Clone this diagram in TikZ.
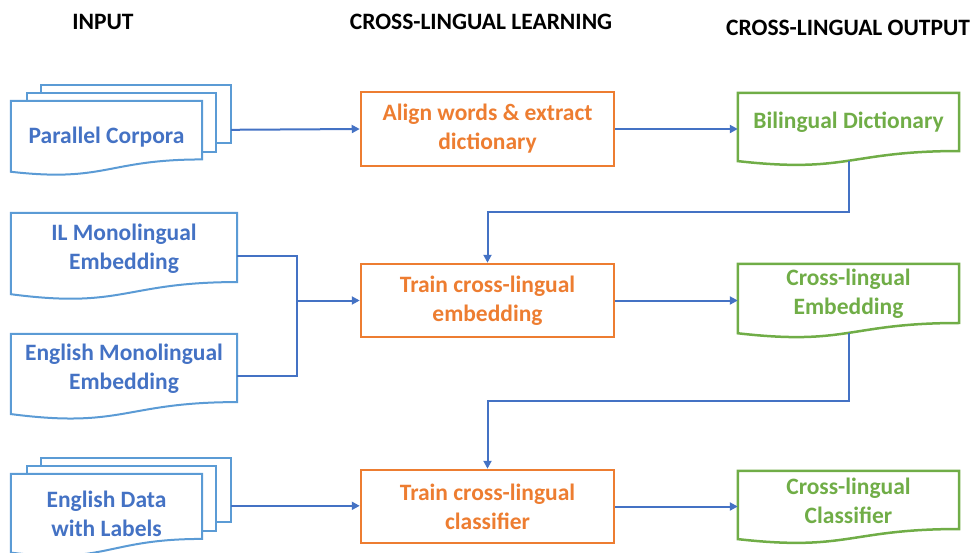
\documentclass[tikz,border=0pt]{standalone}
\usepackage{fontspec}
\setmainfont{Carlito}
\usetikzlibrary{calc}
\usetikzlibrary{arrows.meta}
\definecolor{inblue}{HTML}{4472C4}
\definecolor{docblue}{HTML}{5B9BD5}
\definecolor{outorange}{HTML}{ED7D31}
\definecolor{outgreen}{HTML}{70AD47}
\tikzset{heading/.style={font=\bfseries\fontsize{23.5}{29}\selectfont, inner sep=0pt}}
\tikzset{txt/.style={font=\bfseries\fontsize{23.5}{29}\selectfont, align=center, inner sep=0pt}}
\tikzset{learn/.style={txt, rectangle, draw=outorange, line width=2.5pt, text=outorange,
   minimum width=253pt, minimum height=73pt}}
\tikzset{indoc/.style={txt, text=inblue, minimum width=226pt}}
\tikzset{outdoc/.style={txt, text=outgreen, minimum width=221pt}}
\tikzset{inline/.style={draw=docblue, line width=2pt}}
\tikzset{outline/.style={draw=outgreen, line width=2.5pt}}
\tikzset{conn/.style={draw=inblue, line width=2pt}}
\tikzset{arr/.style={conn, -{Triangle[length=8pt,width=8pt]}}}
% document outline: node, right end, control, left end
\newcommand\wavedoc[5]{%
  \draw[#1] (#2.north west) -- (#2.north east) -- ($(#2.north east)!#3!(#2.south east)$)
    .. controls ($(#2.north)!#3!(#2.south)$) and ($(#2.north)!#4!(#2.south)$)
    .. ($(#2.north west)!#5!(#2.south west)$) -- cycle;}
% the two sheets behind a multi-document
\newcommand\multiback[2]{%
  \draw[inline] ($(#1.north west)+(16,0)$) -- ++(0,-8) -| ($(#1.north east)+(14,#2+9)$) -- ++(-14,0);
  \draw[inline] ($(#1.north west)+(30,-8)$) -- ++(0,-8) -| ($(#1.north east)+(29,#2)$) -- ++(-15,0);}

\begin{document}
\begin{tikzpicture}[x=1pt, y=-1pt]
  \useasboundingbox (0,0) rectangle (974,552);

  \node[heading] (hin)  at (103,22) {INPUT};
  \node[heading] (hlrn) at (481,22) {CROSS-LINGUAL LEARNING};
  \node[heading, anchor=west] (hout) at (726,28) {CROSS-LINGUAL OUTPUT};

  % input
  \node[indoc, minimum width=191pt, minimum height=72pt] (pc) at (106.5,137) {Parallel Corpora};
  \node[indoc, minimum height=71pt] (ilm) at (124,248.5) {IL Monolingual\\Embedding};
  \node[indoc, minimum height=70pt] (emb) at (124,369) {English Monolingual\\Embedding};
  \node[indoc, minimum width=191pt, minimum height=80pt] (ed) at (106.5,514) {English Data\\with Labels};

  \wavedoc{inline}{pc}{0.81}{1.13}{0.98}
  \multiback{pc}{42}
  \wavedoc{inline}{ilm}{0.97}{1.35}{1.14}
  \wavedoc{inline}{emb}{0.97}{1.35}{1.14}
  \wavedoc{inline}{ed}{0.81}{1.13}{0.98}
  \multiback{ed}{48}

  % learning
  \node[learn, minimum height=74pt] (align) at (487.5,129) {Align words \& extract\\dictionary};
  \node[learn] (tremb) at (487.5,300.5) {Train cross-lingual\\embedding};
  \node[learn] (trcls) at (487.5,506.5) {Train cross-lingual\\classifier};

  % output
  \node[outdoc, minimum height=59pt] (bd) at (848.5,122.5) {Bilingual Dictionary};
  \node[outdoc, minimum height=60pt] (ce) at (848.5,294) {Cross-lingual\\Embedding};
  \node[outdoc, minimum height=59pt] (cc) at (848.5,500.5) {Cross-lingual\\Classifier};

  \wavedoc{outline}{bd}{0.98}{1.36}{1.15}
  \wavedoc{outline}{ce}{0.98}{1.36}{1.15}
  \wavedoc{outline}{cc}{0.98}{1.36}{1.15}

  % connectors
  \coordinate (pcb) at ($(pc.north east)+(29,29)$);
  \coordinate (edb) at ($(ed.north east)+(29,32)$);
  \coordinate (jn) at ($(tremb.west)+(-63,0)$);
  \coordinate (bdw) at ($(bd.north)!1.14!(bd.south)$);
  \coordinate (cew) at ($(ce.north)!1.14!(ce.south)$);

  \draw[arr] (pcb) -- (align.west);
  \draw[arr] (align.east) -- (align.east -| bd.west);
  \draw[arr] (bdw) |- ($(bdw)!0.5!(tremb.north)$) -| (tremb.north);

  \draw[conn] ([yshift=-7pt]ilm.east) -| (jn) |- ([yshift=-7pt]emb.east);
  \draw[arr] (jn) -- (tremb.west);
  \draw[arr] (tremb.east) -- (tremb.east -| ce.west);
  \draw[arr] (cew) |- ($(cew)!0.5!(trcls.north)$) -| (trcls.north);

  \draw[arr] (edb) -- (edb -| trcls.west);
  \draw[arr] (trcls.east) -- (trcls.east -| cc.west);

\end{tikzpicture}
\end{document}
